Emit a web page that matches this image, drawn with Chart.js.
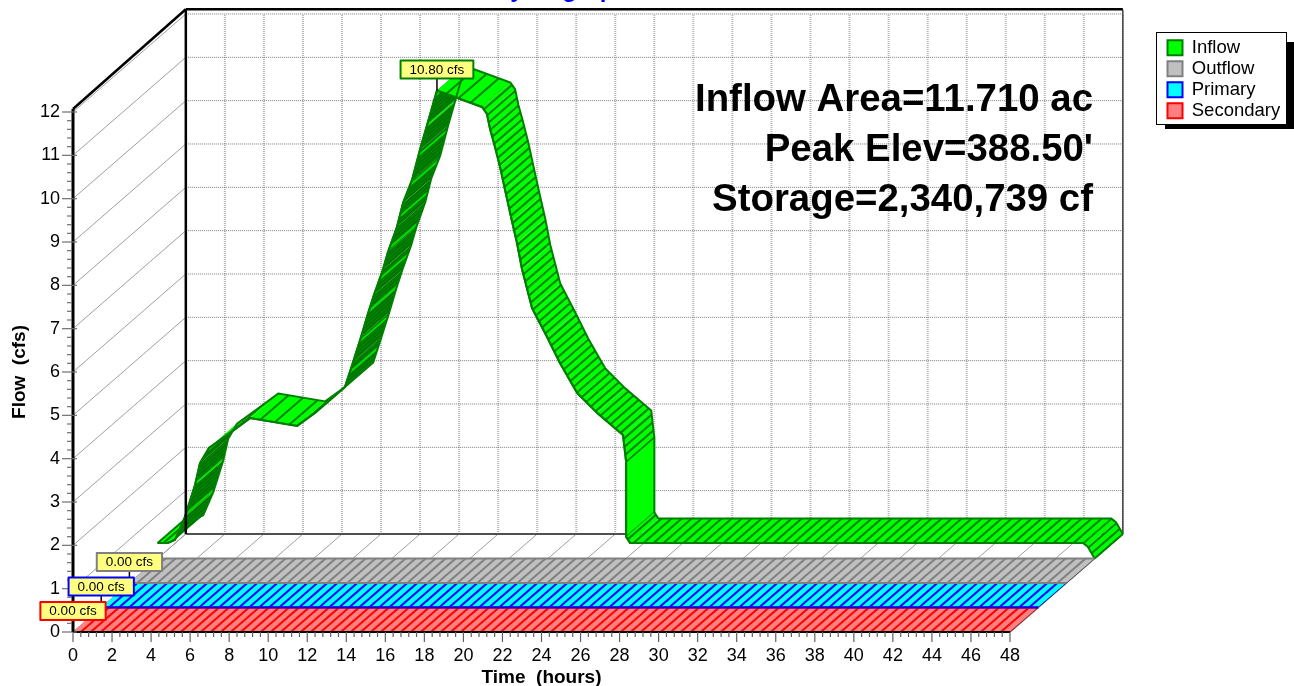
<!DOCTYPE html>
<html>
<head>
<meta charset="utf-8">
<title>Hydrograph</title>
<script src="https://cdn.jsdelivr.net/npm/chart.js@4"></script>
<style>
  html, body { margin: 0; padding: 0; background: #fff; }
  canvas { display: block; }
</style>
</head>
<body>
<canvas id="hydro" width="1294" height="686"></canvas>
<script>
// values
var inflowTime = [0, 0.53, 0.89, 1.40, 1.92, 2.17, 2.63, 3.71, 4.73, 7.14, 8.06, 9.60, 10.01, 10.42, 10.78, 11.08, 11.54, 11.80, 12.26, 12.57, 13.03, 13.44, 13.80, 14.31,
  16.62, 16.87, 17.03, 17.28, 17.54, 17.80, 18.15, 18.41, 18.67, 18.93, 19.18, 19.95, 20.61, 21.49, 22.51, 23.84, 24.0, 24.0, 24.2, 47.4, 47.65, 48];
var inflowFlow = [0.36, 0.36, 0.43, 0.96, 1.70, 2.20, 2.55, 2.90, 3.24, 3.06, 3.36, 3.96, 4.53, 5.11, 5.66, 6.08, 6.66, 7.07, 7.65, 8.20, 8.73, 9.43, 10.0, 10.80,
  10.42, 10.26, 9.91, 9.50, 9.04, 8.50, 7.79, 7.28, 6.67, 6.22, 5.78, 5.11, 4.51, 3.82, 3.36, 2.85, 2.23, 0.50, 0.36, 0.36, 0.27, 0];
var flatTime = [0, 48];
var outflowFlow = [0, 0];
var primaryFlow = [0, 0];
var secondaryFlow = [0, 0];
var seriesNames = ['Inflow', 'Outflow', 'Primary', 'Secondary'];
var infoLines = ['Inflow Area=11.710 ac', 'Peak Elev=388.50\'', 'Storage=2,340,739 cf'];

// the "3d" is just an offset in data units, one slot of depth per series
var depthHours = 5.78;
var depthFlow = 2.262;
var slot = 0.25;

var fontName = '"Liberation Sans", Arial, sans-serif';

function shifted(times, flows, depth) {
  return times.map(function(t, i) {
    return { x: t + depth * depthHours, y: flows[i] + depth * depthFlow };
  });
}

function hatchLines(g, w, h, n, color, lineW) {
  g.strokeStyle = color;
  g.lineWidth = lineW;
  for (var k = -n; k <= 2 * n; k++) {
    var off = k * w / n;
    g.beginPath();
    g.moveTo(off - w, 2 * h);
    g.lineTo(off + 2 * w, -h);
    g.stroke();
  }
}

function makeHatch(ctx, w, h, n, back, line, lineW) {
  var c = document.createElement('canvas');
  c.width = w; c.height = h;
  var g = c.getContext('2d');
  g.fillStyle = back;
  g.fillRect(0, 0, w, h);
  hatchLines(g, w, h, n, line, lineW);
  return ctx.createPattern(c, 'repeat');
}

function makeUnder(ctx) {
  var c = document.createElement('canvas');
  c.width = 52; c.height = 45;
  var g = c.getContext('2d');
  g.fillStyle = '#008800';
  g.fillRect(0, 0, 52, 45);
  hatchLines(g, 52, 45, 13, '#006e00', 1.4);
  hatchLines(g, 52, 45, 2, '#00e000', 2);
  return ctx.createPattern(c, 'repeat');
}

var ribbonStyle = [
  { time: inflowTime, flow: inflowFlow, depth: 3 * slot, fill: '#00ff00', line: '#008000', edge: '#008000' },
  { time: flatTime, flow: outflowFlow, depth: 2 * slot, fill: '#c0c0c0', line: '#808080', edge: '#808080' },
  { time: flatTime, flow: primaryFlow, depth: slot, fill: '#00ffff', line: '#0000ff', edge: '#0000ff' },
  { time: flatTime, flow: secondaryFlow, depth: 0, fill: '#ff8080', line: '#ff0000', edge: '#ff0000' }
];

function drawRibbon(ctx, xs, ys, r) {
  if (!r.dense) {
    r.dense = makeHatch(ctx, 30, 26, 3, r.fill, r.line, 2);
    r.sparse = makeHatch(ctx, 52, 45, 3, r.fill, r.line, 2);
    r.under = makeUnder(ctx);
  }
  var front = [], back = [];
  r.time.forEach(function(t, i) {
    front.push([xs.getPixelForValue(t + r.depth * depthHours), ys.getPixelForValue(r.flow[i] + r.depth * depthFlow)]);
    back.push([xs.getPixelForValue(t + (r.depth + slot) * depthHours), ys.getPixelForValue(r.flow[i] + (r.depth + slot) * depthFlow)]);
  });
  var dx = back[0][0] - front[0][0], dy = back[0][1] - front[0][1];
  for (var i = 0; i < front.length - 1; i++) {
    var ax = front[i + 1][0] - front[i][0], ay = front[i + 1][1] - front[i][1];
    var isUnder = ax * dy - ay * dx > 0;
    var drop = Math.abs(ax) < 1 && ay > 20;
    var shallow = ay !== 0 && ax > 0 && Math.abs(ay / ax) < 0.5;
    ctx.beginPath();
    ctx.moveTo(front[i][0], front[i][1]);
    ctx.lineTo(front[i + 1][0], front[i + 1][1]);
    ctx.lineTo(back[i + 1][0], back[i + 1][1]);
    ctx.lineTo(back[i][0], back[i][1]);
    ctx.closePath();
    ctx.fillStyle = drop ? r.fill : isUnder ? r.under : shallow ? r.sparse : r.dense;
    ctx.fill();
    if (drop) {
      ctx.strokeStyle = r.line;
      ctx.lineWidth = 1.5;
      ctx.beginPath();
      ctx.moveTo(front[i][0], front[i][1]); ctx.lineTo(back[i][0], back[i][1]);
      ctx.moveTo(front[i + 1][0], front[i + 1][1]); ctx.lineTo(back[i + 1][0], back[i + 1][1]);
      ctx.stroke();
    }
  }
  ctx.strokeStyle = r.edge;
  ctx.lineWidth = 2;
  ctx.lineJoin = 'round';
  [front, back].forEach(function(edge) {
    ctx.beginPath();
    edge.forEach(function(p, i) { if (i) ctx.lineTo(p[0], p[1]); else ctx.moveTo(p[0], p[1]); });
    ctx.stroke();
  });
  if (r.depth > slot * 2) {
    var last = front.length - 1;
    ctx.beginPath();
    ctx.moveTo(front[last][0], front[last][1]);
    ctx.lineTo(back[last][0], back[last][1]);
    ctx.moveTo(front[0][0], front[0][1]);
    ctx.lineTo(back[0][0], back[0][1]);
    ctx.stroke();
  }
}

function seg(ctx, x1, y1, x2, y2, color, width, dash) {
  ctx.save();
  ctx.strokeStyle = color;
  ctx.lineWidth = width;
  ctx.setLineDash(dash || []);
  ctx.beginPath();
  ctx.moveTo(x1, y1);
  ctx.lineTo(x2, y2);
  ctx.stroke();
  ctx.restore();
}

function flag(ctx, xs, ys, r) {
  var peak = 0, at = 0;
  r.flow.forEach(function(v, i) { if (v > peak) { peak = v; at = i; } });
  var px = xs.getPixelForValue(r.time[at] + r.depth * depthHours);
  var py = ys.getPixelForValue(peak + r.depth * depthFlow);
  var text = peak.toFixed(2) + ' cfs';
  ctx.font = '13.5px ' + fontName;
  var w = ctx.measureText(text).width + 18;
  var h = 18;
  seg(ctx, px, py, px, py - 12, '#000', 1.5);
  ctx.fillStyle = '#ffff80';
  ctx.fillRect(px - w / 2, py - 12 - h, w, h);
  ctx.strokeStyle = r.edge;
  ctx.lineWidth = 2;
  ctx.strokeRect(px - w / 2, py - 12 - h, w, h);
  ctx.fillStyle = '#000';
  ctx.textAlign = 'center';
  ctx.textBaseline = 'middle';
  ctx.fillText(text, px, py - 12 - h / 2 + 0.5);
}

var pseudo3d = {
  id: 'pseudo3d',
  afterLayout: function(chart) {
    // legend sits outside the plot, top right
    var lg = chart.legend;
    var w = lg.width, h = lg.height;
    lg.left = 1165; lg.right = 1165 + w;
    lg.top = 36; lg.bottom = 36 + h;
  },
  beforeDraw: function(chart) {
    var ctx = chart.ctx;
    ctx.save();
    ctx.fillStyle = '#fff';
    ctx.fillRect(0, 0, chart.width, chart.height);
    // title is cut by the top of the image
    ctx.fillStyle = '#0000ff';
    ctx.font = 'bold 24px ' + fontName;
    ctx.textAlign = 'center';
    ctx.textBaseline = 'alphabetic';
    ctx.fillText('Hydrograph', 561, -3);
    // legend frame with its shadow
    ctx.fillStyle = '#000';
    ctx.fillRect(1165, 42, 129, 87);
    ctx.fillStyle = '#fff';
    ctx.fillRect(1157, 33, 130, 91);
    ctx.strokeStyle = '#000';
    ctx.lineWidth = 1;
    ctx.strokeRect(1156.5, 32.5, 130, 92);
    ctx.restore();
  },
  beforeDatasetsDraw: function(chart) {
    var ctx = chart.ctx, xs = chart.scales.x, ys = chart.scales.y;
    function px(t, d) { return xs.getPixelForValue(t + d * depthHours); }
    function py(v, d) { return ys.getPixelForValue(v + d * depthFlow); }
    var dotted = [1, 1];
    // back wall
    xs.ticks.forEach(function(t) {
      if (Math.abs(t.value / 2 - Math.round(t.value / 2)) > 1e-6) return;
      seg(ctx, px(t.value, 1), py(0, 1), px(t.value, 1), py(12, 1), '#b4b4b4', 2, dotted);
      seg(ctx, px(t.value, 0), py(0, 0), px(t.value, 1), py(0, 1), '#a0a0a0', 1);
    });
    ys.ticks.forEach(function(t) {
      if (Math.abs(t.value - Math.round(t.value)) > 1e-6) return;
      seg(ctx, px(0, 1), py(t.value, 1), px(48, 1), py(t.value, 1), '#7a7a7a', 1, dotted);
      seg(ctx, px(0, 0), py(t.value, 0), px(0, 1), py(t.value, 1), '#a0a0a0', 1);
    });
    seg(ctx, px(0, 1), py(0, 1), px(48, 1), py(0, 1), '#505050', 2);
    seg(ctx, px(48, 1), py(0, 1), px(48, 1), py(12.1, 1), '#404040', 1.5);
    seg(ctx, px(48, 0), py(0, 0), px(48, 1), py(0, 1), '#505050', 1.5);
    ribbonStyle.forEach(function(r) { drawRibbon(ctx, xs, ys, r); });
  },
  afterDatasetsDraw: function(chart) {
    var ctx = chart.ctx, xs = chart.scales.x, ys = chart.scales.y;
    function px(t, d) { return xs.getPixelForValue(t + d * depthHours); }
    function py(v, d) { return ys.getPixelForValue(v + d * depthFlow); }
    ctx.save();
    // frame
    seg(ctx, px(0, 1), py(12.11, 1), px(48, 1), py(12.11, 1), '#000', 2.5);
    seg(ctx, px(0, 0), py(12.07, 0), px(0, 1), py(12.11, 1), '#000', 2.5);
    seg(ctx, px(0, 1), py(0, 1), px(0, 1), py(12.11, 1), '#000', 2.5);
    seg(ctx, px(0, 0), py(0, 0), px(0, 0), py(12.07, 0), '#000', 3);
    seg(ctx, px(0, 0), py(0, 0), px(48, 0), py(0, 0), '#000', 2);
    // tick marks
    xs.ticks.forEach(function(t) {
      var x = xs.getPixelForValue(t.value);
      var major = Math.abs(t.value / 2 - Math.round(t.value / 2)) < 1e-6;
      seg(ctx, x, py(0, 0), x, py(0, 0) + (major ? 10 : 5), '#606060', 1.2);
    });
    ys.ticks.forEach(function(t) {
      var y = ys.getPixelForValue(t.value);
      var major = Math.abs(t.value - Math.round(t.value)) < 1e-6;
      if (major) seg(ctx, px(0, 0) - 11, y, px(0, 0) + 4, y, '#707070', 1.2);
      else seg(ctx, px(0, 0) - 6, y, px(0, 0) - 1, y, '#707070', 1.2);
    });
    // text block
    ctx.fillStyle = '#000';
    ctx.font = 'bold 38.4px ' + fontName;
    ctx.textAlign = 'right';
    ctx.textBaseline = 'alphabetic';
    infoLines.forEach(function(s, i) { ctx.fillText(s, 1093, 111 + i * 50); });
    // value flags, back to front
    ribbonStyle.forEach(function(r) { flag(ctx, xs, ys, r); });
    ctx.restore();
  }
};

var ctx = document.getElementById('hydro').getContext('2d');

var hydro = new Chart(ctx, {
  type: 'scatter',
  data: {
    datasets: ribbonStyle.map(function(r, i) {
      return {
        label: seriesNames[i],
        data: shifted(r.time, r.flow, r.depth),
        showLine: true,
        borderColor: r.edge,
        backgroundColor: r.fill,
        borderWidth: 2,
        pointRadius: 0,
        clip: false
      };
    })
  },
  options: {
    responsive: false,
    animation: false,
    layout: { padding: { top: 112, right: 284, left: 0, bottom: 0 } },
    plugins: {
      title: { display: false },
      tooltip: { enabled: false },
      legend: {
        position: 'chartArea',
        align: 'start',
        labels: {
          boxWidth: 15,
          boxHeight: 15,
          padding: 2.5,
          color: '#000',
          font: { family: fontName, size: 18.5, lineHeight: 1.06 }
        }
      }
    },
    scales: {
      x: {
        type: 'linear',
        min: 0,
        max: 48,
        afterFit: function(s) { s.height = 54; },
        border: { display: false },
        grid: { display: false },
        title: {
          display: true,
          text: 'Time  (hours)',
          color: '#000',
          font: { family: fontName, size: 19, weight: 'bold' },
          padding: { top: 0, bottom: -3 }
        },
        ticks: {
          stepSize: 0.4,
          autoSkip: false,
          maxRotation: 0,
          padding: 5,
          color: '#000',
          font: { family: fontName, size: 18 },
          callback: function(v) {
            return Math.abs(v / 2 - Math.round(v / 2)) < 1e-6 ? String(Math.round(v)) : '';
          }
        }
      },
      y: {
        type: 'linear',
        min: 0,
        max: 12,
        afterFit: function(s) { s.width = 73; },
        border: { display: false },
        grid: { display: false },
        title: {
          display: true,
          text: 'Flow  (cfs)',
          color: '#000',
          font: { family: fontName, size: 19, weight: 'bold' },
          padding: { top: 8, bottom: 0 }
        },
        ticks: {
          stepSize: 0.2,
          autoSkip: false,
          padding: 5,
          color: '#000',
          font: { family: fontName, size: 18 },
          callback: function(v) {
            return Math.abs(v - Math.round(v)) < 1e-6 ? String(Math.round(v)) : '';
          }
        }
      }
    }
  },
  plugins: [pseudo3d]
});
</script>
</body>
</html>
